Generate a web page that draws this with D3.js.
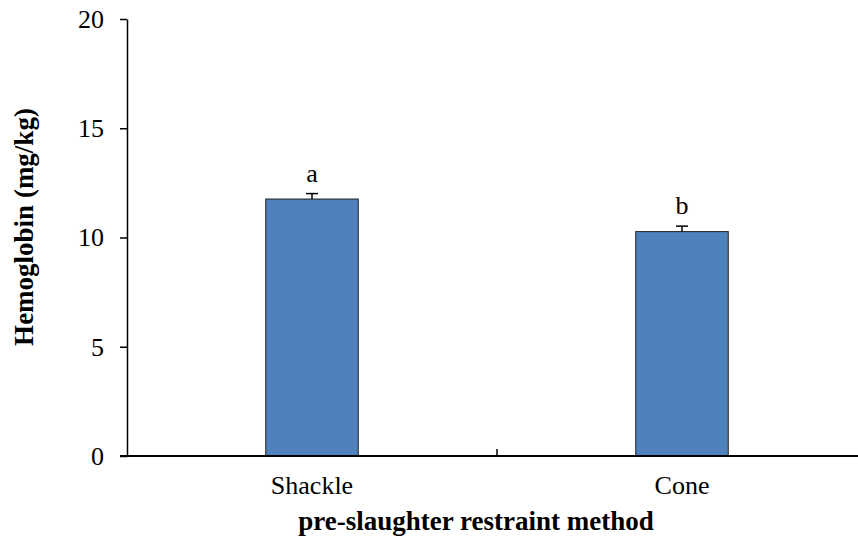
<!DOCTYPE html>
<html>
<head>
<meta charset="utf-8">
<script src="https://cdn.jsdelivr.net/npm/d3@7"></script>
<style>
  body { margin: 0; background: #fff; }
  text { font-family: "Liberation Serif", "Times New Roman", serif; fill: #000; }
</style>
</head>
<body>
<div id="chart"></div>
<script>
const categories = ["Shackle", "Cone"];
const means = [11.76, 10.27];
const errors = [0.25, 0.25];
const letters = ["a", "b"];
const yTicks = [0, 5, 10, 15, 20];

const width = 858, height = 537;
const margin = { top: 19, right: -9, bottom: 81, left: 127 };
const innerW = width - margin.left - margin.right;
const innerH = height - margin.top - margin.bottom;

const svg = d3.select("#chart").append("svg")
  .attr("width", width).attr("height", height);
const g = svg.append("g").attr("transform", `translate(${margin.left},${margin.top})`);

const x = d3.scaleBand().domain(categories).range([0, innerW]).paddingInner(0.75).paddingOuter(0.375);
const xb = d3.scaleBand().domain(categories).range([0, innerW]);
const y = d3.scaleLinear().domain([0, 20]).range([innerH, 0]);

// y axis
const yAxis = g.append("g")
  .call(d3.axisLeft(y).tickValues(yTicks).tickSize(7).tickPadding(16).tickSizeOuter(0));
yAxis.select(".domain").attr("stroke", "#000").attr("stroke-width", 1.5);
yAxis.selectAll(".tick line").attr("stroke", "#000").attr("stroke-width", 1.5);
yAxis.selectAll(".tick text").style("font-size", "26px").style("font-family", "Liberation Serif");

// bars
g.selectAll("rect.bar").data(categories).enter().append("rect")
  .attr("class", "bar")
  .attr("x", d => x(d))
  .attr("width", x.bandwidth())
  .attr("y", (d, i) => y(means[i]))
  .attr("height", (d, i) => y(0) - y(means[i]))
  .attr("fill", "#4f81bd")
  .attr("stroke", "#1f1f1f")
  .attr("stroke-width", 1);

// error bars
categories.forEach((c, i) => {
  const cx = x(c) + x.bandwidth() / 2;
  g.append("line").attr("x1", cx).attr("x2", cx)
    .attr("y1", y(means[i])).attr("y2", y(means[i] + errors[i]))
    .attr("stroke", "#000").attr("stroke-width", 1.5);
  g.append("line").attr("x1", cx - 6).attr("x2", cx + 6)
    .attr("y1", y(means[i] + errors[i])).attr("y2", y(means[i] + errors[i]))
    .attr("stroke", "#000").attr("stroke-width", 1.5);
  g.append("text").attr("x", cx).attr("y", y(means[i] + errors[i]) - 12)
    .attr("text-anchor", "middle").style("font-size", "26px").text(letters[i]);
});

// x axis
const xAxis = g.append("g").attr("transform", `translate(0,${innerH})`)
  .call(d3.axisBottom(xb).tickSize(0).tickPadding(20).tickSizeOuter(0));
xAxis.select(".domain").attr("stroke", "#000").attr("stroke-width", 2)
  .attr("d", `M-7,0H${innerW}`);
xAxis.selectAll(".tick text").style("font-size", "26px").style("font-family", "Liberation Serif");
// tick between categories
g.append("line").attr("x1", xb("Cone")).attr("x2", xb("Cone"))
  .attr("y1", innerH).attr("y2", innerH - 7)
  .attr("stroke", "#000").attr("stroke-width", 1.5);

// axis titles
svg.append("text").attr("x", 476).attr("y", 530)
  .attr("text-anchor", "middle").style("font-size", "27px").style("font-weight", "bold")
  .text("pre-slaughter restraint method");
svg.append("text").attr("transform", "translate(33,227) rotate(-90)")
  .attr("text-anchor", "middle").style("font-size", "27px").style("font-weight", "bold")
  .text("Hemoglobin (mg/kg)");
</script>
</body>
</html>
